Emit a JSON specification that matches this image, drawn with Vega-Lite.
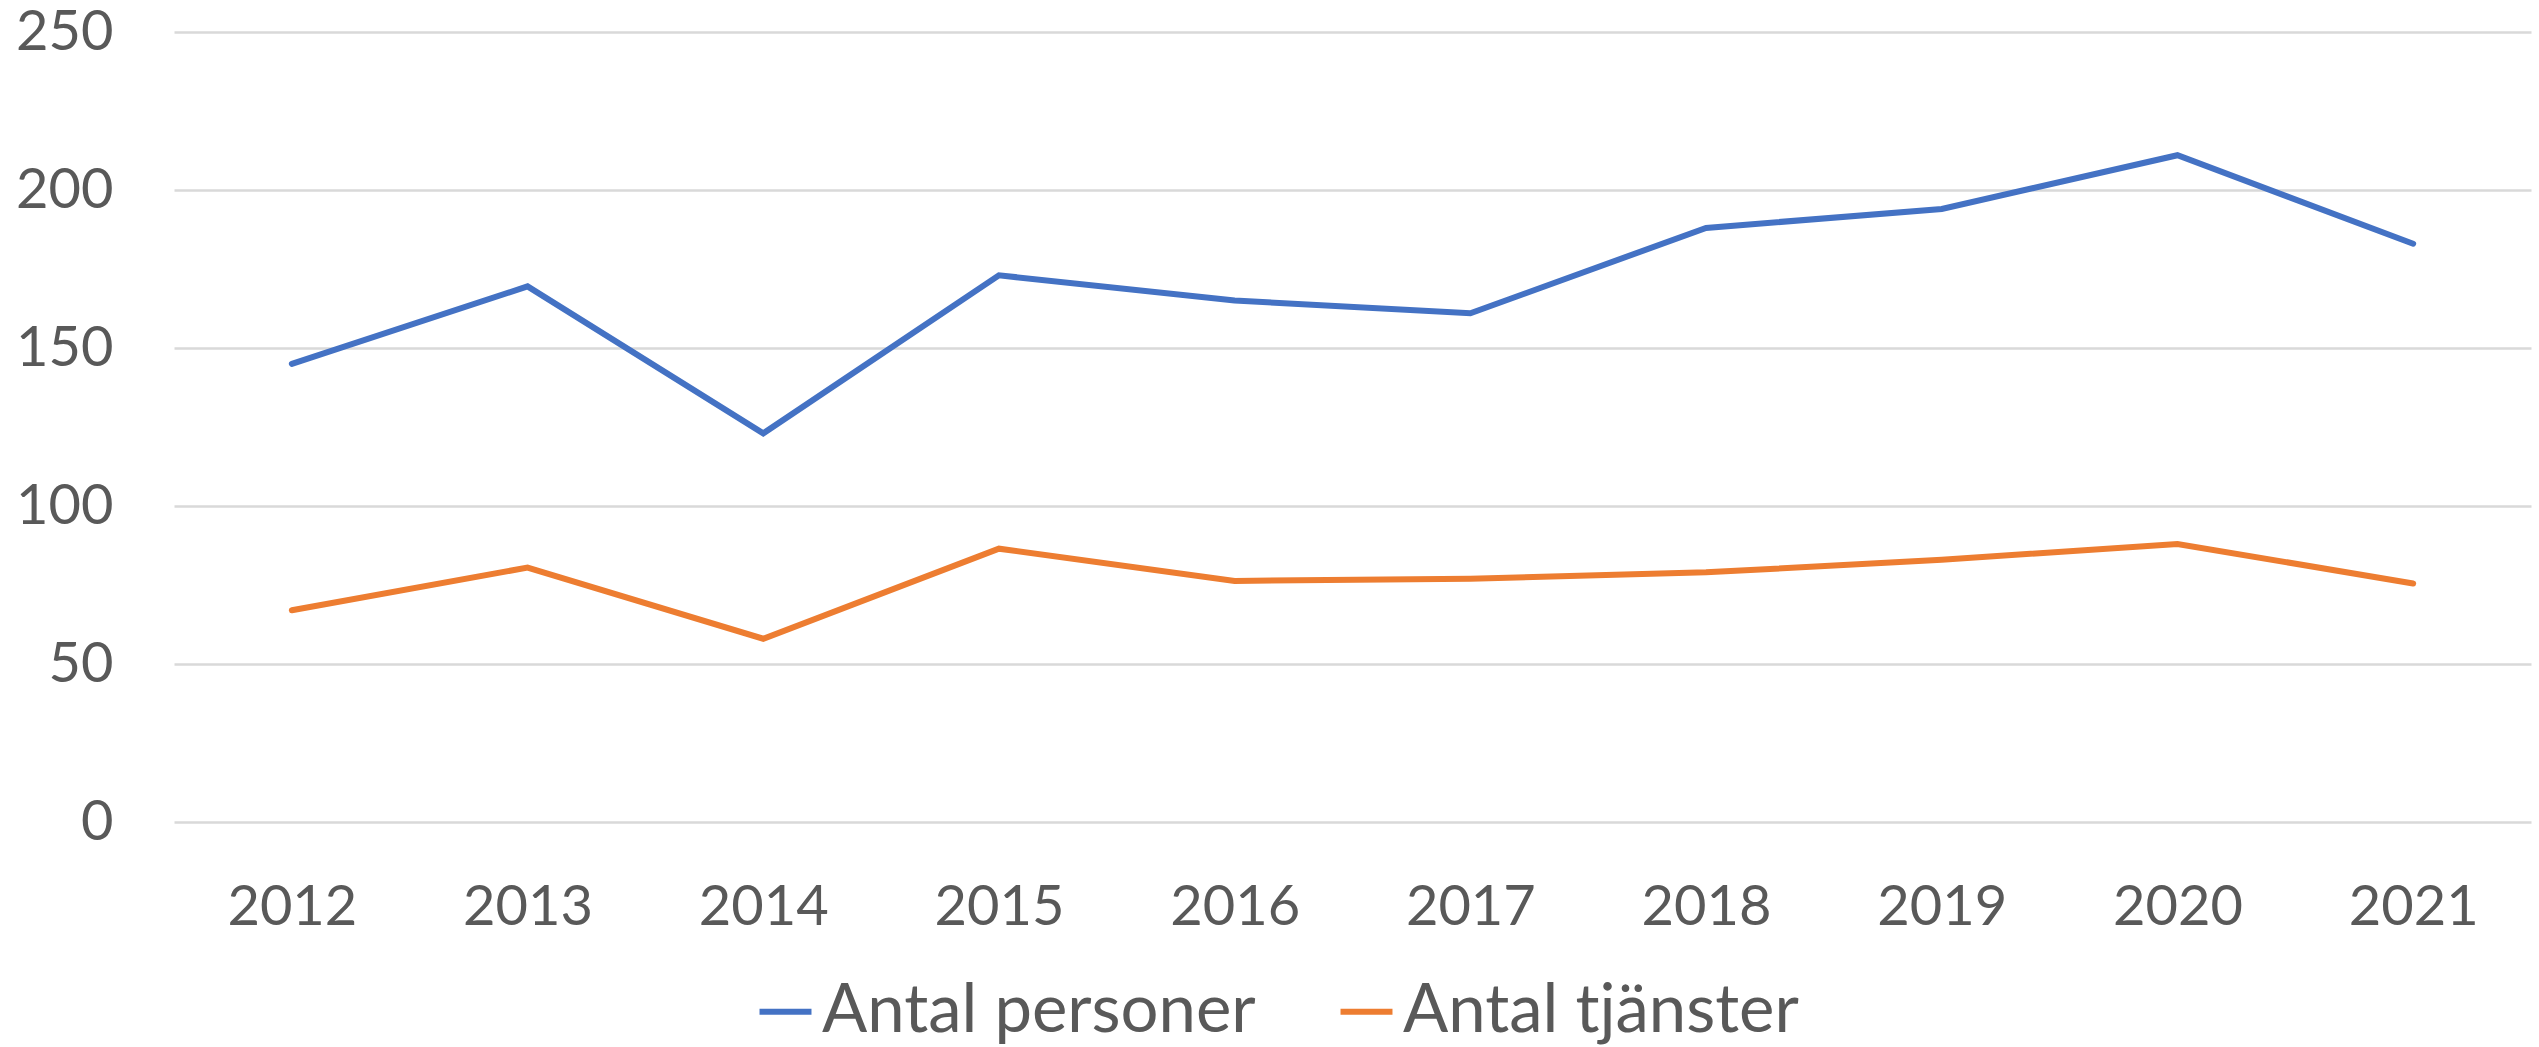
{
  "$schema": "https://vega.github.io/schema/vega-lite/v6.json",
  "autosize": "none",
  "width": 2357,
  "height": 790,
  "padding": {"left": 174, "top": 32, "right": 8, "bottom": 225},
  "background": "white",
  "config": {
    "view": {"stroke": null},
    "font": "Lato"
  },
  "data": {
    "values": [
      {"year": "2012", "series": "Antal personer", "value": 145},
      {"year": "2013", "series": "Antal personer", "value": 169.5},
      {"year": "2014", "series": "Antal personer", "value": 123},
      {"year": "2015", "series": "Antal personer", "value": 173},
      {"year": "2016", "series": "Antal personer", "value": 165},
      {"year": "2017", "series": "Antal personer", "value": 161},
      {"year": "2018", "series": "Antal personer", "value": 188},
      {"year": "2019", "series": "Antal personer", "value": 194},
      {"year": "2020", "series": "Antal personer", "value": 211},
      {"year": "2021", "series": "Antal personer", "value": 183},
      {"year": "2012", "series": "Antal tjänster", "value": 67},
      {"year": "2013", "series": "Antal tjänster", "value": 80.5},
      {"year": "2014", "series": "Antal tjänster", "value": 58},
      {"year": "2015", "series": "Antal tjänster", "value": 86.5},
      {"year": "2016", "series": "Antal tjänster", "value": 76.3},
      {"year": "2017", "series": "Antal tjänster", "value": 77},
      {"year": "2018", "series": "Antal tjänster", "value": 79},
      {"year": "2019", "series": "Antal tjänster", "value": 83},
      {"year": "2020", "series": "Antal tjänster", "value": 88},
      {"year": "2021", "series": "Antal tjänster", "value": 75.5}
    ]
  },
  "mark": {"type": "line", "strokeWidth": 6, "strokeCap": "round", "strokeJoin": "miter"},
  "encoding": {
    "x": {
      "field": "year",
      "type": "ordinal",
      "scale": {"type": "point", "padding": 0.5},
      "axis": {
        "title": null,
        "domain": false,
        "ticks": false,
        "grid": false,
        "labelAngle": 0,
        "labelFontSize": 56,
        "labelColor": "#595959",
        "labelPadding": 58,
        "labelBaseline": "top"
      }
    },
    "y": {
      "field": "value",
      "type": "quantitative",
      "scale": {"domain": [0, 250], "nice": false},
      "axis": {
        "title": null,
        "values": [0, 50, 100, 150, 200, 250],
        "domain": false,
        "ticks": false,
        "grid": true,
        "gridColor": "#D9D9D9",
        "gridWidth": 2.5,
        "labelFontSize": 56,
        "labelColor": "#595959",
        "labelPadding": 61
      }
    },
    "color": {
      "field": "series",
      "type": "nominal",
      "scale": {"domain": ["Antal personer", "Antal tjänster"], "range": ["#4472C4", "#ED7D31"]},
      "legend": {
        "title": null,
        "orient": "none",
        "direction": "horizontal",
        "legendX": 578,
        "legendY": 946,
        "symbolType": "stroke",
        "symbolSize": 2700,
        "symbolStrokeWidth": 6,
        "labelFontSize": 67,
        "labelColor": "#595959",
        "labelOffset": 3,
        "columnPadding": 72,
        "labelLimit": 0
      }
    }
  }
}
